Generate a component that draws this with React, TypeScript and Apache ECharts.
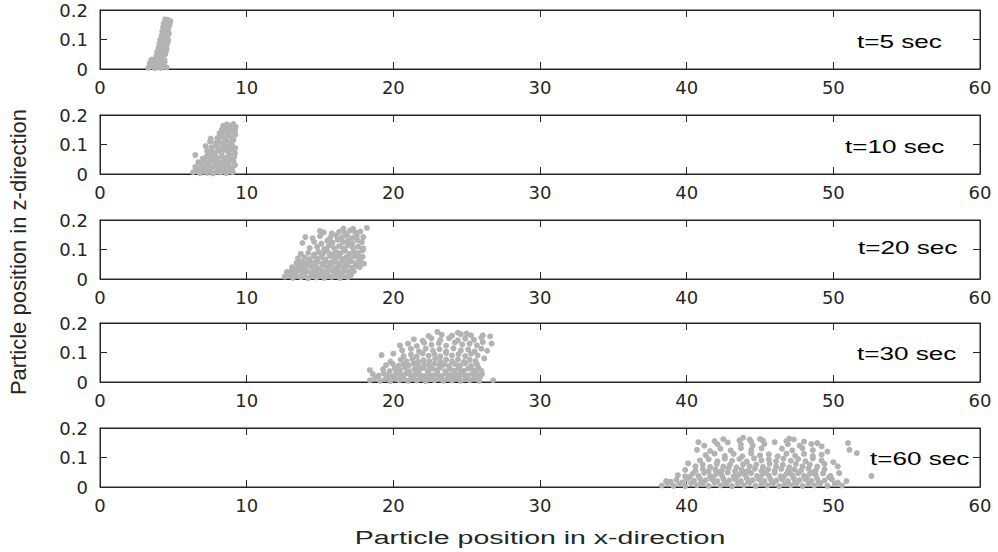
import React, { useEffect, useRef } from "react";
import * as echarts from "echarts";

// ---- data ----
const panelLabels = ["t=5 sec", "t=10 sec", "t=20 sec", "t=30 sec", "t=60 sec"];
const xTickValues = [0, 10, 20, 30, 40, 50, 60];
const zTickValues = [0, 0.1, 0.2];
const xLabel = "Particle position in x-direction";
const zLabel = "Particle position in z-direction";

// particle positions: [x, z]
const t5Points: number[][] = [
  [3.3, 0.004], [3.55, 0.009], [3.75, 0.003], [3.95, 0.007], [4.15, 0.004], [4.35, 0.008], [4.55, 0.005],
  [3.4, 0.019], [3.6, 0.024], [3.8, 0.017], [4.0, 0.022], [4.2, 0.018], [4.4, 0.023],
  [3.5, 0.031], [3.75, 0.034], [3.95, 0.03], [4.2, 0.033], [4.4, 0.03],
  [3.85, 0.045], [4.05, 0.042], [4.3, 0.046], [4.45, 0.05],
  [3.9, 0.058], [4.1, 0.062], [4.3, 0.056], [4.5, 0.06],
  [4.0, 0.072], [4.2, 0.068], [4.4, 0.075], [4.55, 0.07],
  [4.05, 0.085], [4.25, 0.09], [4.45, 0.083], [4.6, 0.088],
  [4.1, 0.1], [4.3, 0.097], [4.5, 0.103], [4.65, 0.098],
  [4.2, 0.113], [4.4, 0.117], [4.6, 0.111], [4.7, 0.12],
  [4.25, 0.128], [4.45, 0.125], [4.65, 0.131],
  [4.3, 0.142], [4.5, 0.139], [4.7, 0.145],
  [4.35, 0.155], [4.55, 0.158], [4.75, 0.152],
  [4.45, 0.168], [4.65, 0.166], [4.8, 0.162],
];

const t10Points: number[][] = [
  [6.35, 0.006], [6.6, 0.012], [6.8, 0.003], [7.05, 0.009], [7.3, 0.004], [7.5, 0.014], [7.7, 0.002], [7.95, 0.008], [8.2, 0.005], [8.4, 0.013], [8.6, 0.003], [8.85, 0.009], [9.05, 0.006],
  [6.5, 0.024], [6.75, 0.019], [7.0, 0.027], [7.2, 0.02], [7.45, 0.03], [7.65, 0.022], [7.9, 0.026], [8.1, 0.018], [8.35, 0.028], [8.55, 0.021], [8.8, 0.025], [9.0, 0.019], [9.2, 0.03],
  [6.9, 0.038], [7.1, 0.045], [7.35, 0.036], [7.55, 0.05], [7.8, 0.041], [8.0, 0.053], [8.2, 0.039], [8.45, 0.047], [8.65, 0.037], [8.9, 0.052], [9.1, 0.043],
  [7.25, 0.058], [7.6, 0.062], [7.9, 0.057], [8.3, 0.06], [8.6, 0.055], [8.85, 0.063], [9.15, 0.058],
  [7.4, 0.07], [7.65, 0.077], [7.85, 0.069], [8.05, 0.081], [8.3, 0.072], [8.5, 0.085], [8.75, 0.074], [8.95, 0.083], [9.2, 0.07],
  [7.6, 0.09], [7.95, 0.094], [8.2, 0.088], [8.45, 0.098], [8.7, 0.092], [9.0, 0.097], [9.22, 0.088],
  [7.85, 0.105], [8.1, 0.11], [8.35, 0.104], [8.6, 0.113], [8.85, 0.107], [9.1, 0.115],
  [8.0, 0.122], [8.25, 0.128], [8.5, 0.121], [8.75, 0.131], [9.0, 0.124], [9.23, 0.133],
  [8.15, 0.138], [8.45, 0.142], [8.7, 0.137], [8.95, 0.145],
  [8.3, 0.15], [8.55, 0.155], [8.8, 0.149], [9.05, 0.157], [9.2, 0.146],
  [8.4, 0.163], [8.65, 0.168], [8.9, 0.162], [9.1, 0.169], [9.25, 0.16],
  [6.5, 0.064], [7.2, 0.095], [7.0, 0.052], [7.5, 0.11], [6.7, 0.04], [7.3, 0.078], [7.55, 0.12],
  [7.4, 0.016], [8.0, 0.033], [8.7, 0.015], [7.7, 0.045], [8.8, 0.04],
];

const t20Points: number[][] = [
  [12.6, 0.008], [12.9, 0.014], [13.15, 0.004], [13.4, 0.011], [13.7, 0.006], [13.95, 0.015], [14.2, 0.003], [14.5, 0.01], [14.75, 0.005], [15.0, 0.013], [15.3, 0.004], [15.55, 0.011], [15.8, 0.007], [16.1, 0.014], [16.35, 0.004], [16.6, 0.01], [16.9, 0.006], [17.1, 0.013],
  [12.75, 0.024], [13.05, 0.028], [13.3, 0.021], [13.6, 0.029], [13.85, 0.022], [14.1, 0.027], [14.4, 0.02], [14.65, 0.03], [14.9, 0.023], [15.2, 0.026], [15.45, 0.021], [15.7, 0.03], [15.95, 0.024], [16.25, 0.027], [16.5, 0.02], [16.75, 0.029], [17.0, 0.023], [17.3, 0.026],
  [13.1, 0.04], [13.35, 0.036], [13.65, 0.045], [13.9, 0.038], [14.15, 0.048], [14.45, 0.039], [14.7, 0.044], [14.95, 0.035], [15.25, 0.047], [15.5, 0.04], [15.75, 0.049], [16.05, 0.037], [16.3, 0.045], [16.6, 0.039], [16.85, 0.047], [17.15, 0.038], [17.45, 0.044], [17.7, 0.04],
  [13.4, 0.055], [13.75, 0.058], [14.0, 0.053], [14.3, 0.06], [14.6, 0.055], [14.85, 0.059], [15.15, 0.052], [15.4, 0.06], [15.7, 0.056], [16.0, 0.059], [16.25, 0.053], [16.55, 0.058], [16.8, 0.055], [17.1, 0.06], [17.4, 0.054], [17.75, 0.058], [18.0, 0.052],
  [13.5, 0.07], [13.95, 0.073], [14.25, 0.067], [14.55, 0.077], [14.8, 0.069], [15.1, 0.075], [15.35, 0.066], [15.65, 0.078], [15.95, 0.07], [16.2, 0.076], [16.5, 0.068], [16.8, 0.074], [17.05, 0.067], [17.35, 0.077], [17.65, 0.07], [17.9, 0.075],
  [13.7, 0.085], [14.2, 0.089], [14.6, 0.083], [14.9, 0.092], [15.2, 0.086], [15.5, 0.095], [15.8, 0.084], [16.1, 0.091], [16.4, 0.087], [16.7, 0.096], [17.0, 0.085], [17.3, 0.093], [17.6, 0.088], [17.9, 0.097],
  [14.3, 0.105], [14.8, 0.109], [15.3, 0.102], [15.6, 0.113], [15.95, 0.105], [16.3, 0.111], [16.6, 0.103], [16.9, 0.114], [17.25, 0.106], [17.6, 0.11], [17.95, 0.104],
  [13.8, 0.122], [14.6, 0.126], [15.1, 0.12], [15.5, 0.13], [15.85, 0.123], [16.2, 0.133], [16.55, 0.125], [16.9, 0.129], [17.2, 0.121], [17.55, 0.132], [17.85, 0.125],
  [14.0, 0.142], [14.5, 0.138], [15.0, 0.145], [15.7, 0.14], [16.1, 0.148], [16.5, 0.141], [16.85, 0.147], [17.2, 0.139], [17.5, 0.146], [17.95, 0.142],
  [15.0, 0.163], [15.25, 0.158], [15.8, 0.155], [16.3, 0.16], [16.7, 0.156], [17.05, 0.164], [17.4, 0.158], [17.75, 0.161], [16.6, 0.171], [17.25, 0.17], [18.2, 0.173],
  [13.0, 0.018], [13.8, 0.017], [14.6, 0.016], [15.4, 0.018], [16.2, 0.017], [17.0, 0.016], [14.0, 0.034], [15.6, 0.033], [16.7, 0.034], [14.3, 0.05], [16.0, 0.065],
];

const t30Points: number[][] = [
  [18.4, 0.006], [18.75, 0.013], [19.1, 0.004], [19.45, 0.01], [19.8, 0.003], [20.1, 0.012], [20.4, 0.006], [20.7, 0.014], [21.0, 0.004], [21.3, 0.011], [21.6, 0.005], [21.9, 0.013], [22.2, 0.003], [22.5, 0.01], [22.8, 0.006], [23.1, 0.014], [23.4, 0.004], [23.7, 0.011], [24.0, 0.005], [24.3, 0.013], [24.6, 0.004], [24.9, 0.01], [25.2, 0.006], [25.5, 0.012], [25.85, 0.004], [26.8, 0.006],
  [18.6, 0.027], [19.0, 0.022], [19.35, 0.029], [19.7, 0.024], [20.0, 0.02], [20.3, 0.028], [20.6, 0.023], [20.9, 0.03], [21.2, 0.021], [21.5, 0.027], [21.8, 0.024], [22.1, 0.02], [22.4, 0.029], [22.7, 0.022], [23.0, 0.027], [23.3, 0.02], [23.6, 0.028], [23.9, 0.023], [24.2, 0.03], [24.5, 0.021], [24.8, 0.026], [25.1, 0.022], [25.4, 0.028], [25.75, 0.021], [26.05, 0.027],
  [18.4, 0.04], [19.3, 0.043], [19.75, 0.037], [20.1, 0.047], [20.45, 0.04], [20.8, 0.049], [21.1, 0.036], [21.45, 0.044], [21.75, 0.039], [22.05, 0.048], [22.35, 0.037], [22.65, 0.045], [22.95, 0.04], [23.25, 0.049], [23.55, 0.036], [23.85, 0.044], [24.15, 0.039], [24.45, 0.047], [24.8, 0.038], [25.1, 0.045], [25.45, 0.04], [25.8, 0.048], [26.0, 0.038],
  [19.5, 0.057], [19.95, 0.062], [20.35, 0.055], [20.7, 0.06], [21.05, 0.056], [21.4, 0.063], [21.7, 0.054], [22.1, 0.059], [22.45, 0.055], [22.8, 0.062], [23.15, 0.056], [23.5, 0.06], [23.8, 0.054], [24.2, 0.061], [24.55, 0.056], [24.9, 0.063], [25.3, 0.055], [25.7, 0.06],
  [19.8, 0.069], [20.5, 0.075], [20.9, 0.07], [21.3, 0.078], [21.7, 0.068], [22.05, 0.074], [22.45, 0.07], [22.85, 0.079], [23.2, 0.069], [23.6, 0.076], [24.0, 0.07], [24.4, 0.077], [24.8, 0.068], [25.2, 0.075], [25.6, 0.071], [26.2, 0.08],
  [19.2, 0.091], [20.0, 0.096], [20.7, 0.088], [21.2, 0.093], [21.6, 0.086], [22.0, 0.097], [22.4, 0.089], [22.8, 0.094], [23.2, 0.087], [23.6, 0.098], [24.0, 0.09], [24.45, 0.095], [24.9, 0.088], [25.3, 0.096], [25.75, 0.09],
  [20.6, 0.107], [21.2, 0.112], [21.75, 0.104], [22.2, 0.113], [22.7, 0.106], [23.15, 0.111], [23.6, 0.103], [24.1, 0.114], [24.6, 0.107], [25.1, 0.11], [25.55, 0.104], [26.0, 0.113], [26.4, 0.106],
  [20.45, 0.124], [21.0, 0.13], [21.6, 0.122], [22.1, 0.133], [22.6, 0.126], [23.1, 0.131], [23.6, 0.123], [24.2, 0.134], [24.7, 0.127], [25.2, 0.13], [25.7, 0.124], [26.1, 0.135], [26.7, 0.13],
  [21.4, 0.145], [22.0, 0.14], [22.6, 0.148], [23.2, 0.142], [23.8, 0.149], [24.4, 0.141], [24.9, 0.147], [25.5, 0.143], [26.0, 0.15],
  [22.4, 0.156], [23.3, 0.16], [24.0, 0.157], [24.6, 0.162], [25.3, 0.158], [26.1, 0.158], [26.6, 0.155], [23.0, 0.17], [24.4, 0.167], [25.0, 0.164],
  [19.6, 0.016], [20.5, 0.017], [21.4, 0.016], [22.3, 0.017], [23.2, 0.016], [24.1, 0.017], [25.0, 0.016], [25.9, 0.017],
  [20.2, 0.033], [21.6, 0.034], [23.0, 0.033], [24.6, 0.034], [25.6, 0.033],
];

const t60Points: number[][] = [
  [38.3, 0.005], [38.7, 0.012], [39.1, 0.004], [39.5, 0.01], [39.9, 0.003], [40.3, 0.013], [40.7, 0.006], [41.1, 0.011], [41.5, 0.004], [41.9, 0.014], [42.3, 0.005], [42.7, 0.01], [43.1, 0.003], [43.5, 0.012], [43.9, 0.006], [44.3, 0.014], [44.7, 0.004], [45.1, 0.011], [45.5, 0.005], [45.9, 0.013], [46.3, 0.003], [46.7, 0.01], [47.1, 0.006], [47.5, 0.013], [47.9, 0.004], [48.3, 0.011], [48.7, 0.005], [49.1, 0.012], [49.6, 0.004], [50.1, 0.01], [50.6, 0.005],
  [38.6, 0.02], [39.3, 0.024], [40.0, 0.027], [40.5, 0.021], [40.9, 0.029], [41.3, 0.023], [41.7, 0.027], [42.1, 0.02], [42.5, 0.028], [42.9, 0.022], [43.3, 0.026], [43.7, 0.02], [44.1, 0.029], [44.5, 0.023], [44.9, 0.027], [45.3, 0.021], [45.7, 0.028], [46.1, 0.022], [46.5, 0.026], [46.9, 0.02], [47.3, 0.029], [47.7, 0.023], [48.1, 0.027], [48.5, 0.021], [48.9, 0.028], [49.4, 0.022], [49.9, 0.026], [50.9, 0.02],
  [39.4, 0.04], [39.9, 0.036], [40.4, 0.045], [40.8, 0.038], [41.2, 0.048], [41.6, 0.037], [42.0, 0.044], [42.4, 0.039], [42.8, 0.049], [43.2, 0.036], [43.6, 0.043], [44.0, 0.04], [44.4, 0.047], [44.8, 0.037], [45.2, 0.045], [45.6, 0.039], [46.0, 0.048], [46.4, 0.036], [46.8, 0.044], [47.2, 0.04], [47.6, 0.047], [48.0, 0.038], [48.4, 0.045], [48.8, 0.04], [49.3, 0.046], [49.8, 0.038], [50.4, 0.047], [52.6, 0.037],
  [39.9, 0.058], [40.6, 0.055], [41.1, 0.061], [41.5, 0.054], [41.95, 0.06], [42.4, 0.056], [42.85, 0.062], [43.3, 0.054], [43.75, 0.059], [44.2, 0.055], [44.65, 0.062], [45.1, 0.054], [45.55, 0.06], [46.0, 0.056], [46.45, 0.061], [46.9, 0.054], [47.35, 0.06], [47.8, 0.056], [48.3, 0.062], [48.8, 0.055], [49.4, 0.06],
  [40.1, 0.08], [40.6, 0.07], [41.1, 0.076], [41.6, 0.068], [42.05, 0.078], [42.5, 0.069], [42.95, 0.075], [43.4, 0.067], [43.85, 0.077], [44.3, 0.07], [44.75, 0.076], [45.2, 0.068], [45.65, 0.079], [46.1, 0.07], [46.55, 0.075], [47.0, 0.067], [47.45, 0.078], [47.9, 0.07], [48.4, 0.076], [48.9, 0.069], [49.4, 0.078], [50.3, 0.07], [50.0, 0.084],
  [40.9, 0.09], [41.5, 0.094], [42.1, 0.087], [42.6, 0.096], [43.1, 0.089], [43.6, 0.095], [44.1, 0.086], [44.6, 0.097], [45.1, 0.09], [45.6, 0.094], [46.1, 0.087], [46.6, 0.096], [47.1, 0.089], [47.6, 0.095], [48.1, 0.087], [48.6, 0.097], [49.2, 0.09],
  [41.3, 0.108], [41.9, 0.113], [42.6, 0.105], [43.2, 0.112], [43.8, 0.104], [44.4, 0.114], [45.0, 0.107], [45.6, 0.111], [46.2, 0.104], [46.8, 0.113], [47.4, 0.106], [48.0, 0.112], [48.6, 0.105], [49.2, 0.11], [51.6, 0.115],
  [40.7, 0.126], [41.6, 0.122], [42.3, 0.13], [43.0, 0.124], [43.7, 0.132], [44.4, 0.125], [45.1, 0.131], [46.5, 0.13], [47.2, 0.124], [47.9, 0.131], [48.6, 0.125], [49.6, 0.12], [51.1, 0.126],
  [41.2, 0.14], [42.1, 0.145], [43.7, 0.144], [44.5, 0.14], [45.3, 0.146], [46.9, 0.145], [47.7, 0.14], [48.5, 0.146], [49.2, 0.138],
  [40.8, 0.152], [41.9, 0.156], [42.8, 0.151], [43.6, 0.158], [44.4, 0.153], [45.2, 0.157], [46.0, 0.152], [46.8, 0.156], [47.3, 0.161], [48.0, 0.154], [48.9, 0.149], [51.0, 0.149],
  [43.85, 0.167], [42.5, 0.162], [45.0, 0.163], [47.0, 0.164], [44.3, 0.161],
  [38.9, 0.018], [39.7, 0.016], [40.2, 0.034], [41.0, 0.015], [41.8, 0.033], [42.6, 0.016], [43.4, 0.034], [44.2, 0.017], [45.0, 0.033], [45.8, 0.015], [46.6, 0.034], [47.4, 0.016], [48.2, 0.033], [49.0, 0.017], [49.7, 0.033], [50.3, 0.015],
  [42.2, 0.05], [43.9, 0.051], [45.4, 0.05], [47.0, 0.051], [48.6, 0.05],
];

const panelPoints = [t5Points, t10Points, t20Points, t30Points, t60Points];

// ---- layout / style ----
const W = 998;
const H = 552;
const gridTops = [10, 115, 220, 323, 428];
const gridHeight = 59;
const labelPos = [
  [857, 42],
  [845, 147],
  [858, 248],
  [857, 354],
  [870, 459],
];
const axisColor = "#262626";
const pointColor = "#b3b3b3";
const tickFont = "DejaVu Sans";

export default function App() {
  const ref = useRef<HTMLDivElement>(null);

  useEffect(() => {
    if (!ref.current) return;
    const chart = echarts.init(ref.current, undefined, { renderer: "svg", width: W, height: H });

    const grids: any[] = [];
    const xAxes: any[] = [];
    const yAxes: any[] = [];
    const series: any[] = [];

    panelPoints.forEach((pts, i) => {
      grids.push({
        left: 100,
        right: 18,
        top: gridTops[i],
        height: gridHeight,
        show: true,
        borderColor: axisColor,
        borderWidth: 1,
        backgroundColor: "transparent",
      });
      const xBase = {
        type: "value",
        gridIndex: i,
        min: xTickValues[0],
        max: xTickValues[xTickValues.length - 1],
        interval: 10,
        splitLine: { show: false },
        axisLine: { show: true, onZero: false, lineStyle: { color: axisColor, width: 1 } },
        axisTick: { show: true, inside: true, length: 7, lineStyle: { color: axisColor } },
      };
      xAxes.push({
        ...xBase,
        position: "bottom",
        axisLabel: {
          show: true,
          margin: 9,
          color: axisColor,
          fontFamily: tickFont,
          fontSize: 18,
        },
      });
      xAxes.push({ ...xBase, position: "top", axisLabel: { show: false } });

      const yBase = {
        type: "value",
        gridIndex: i,
        min: zTickValues[0],
        max: zTickValues[zTickValues.length - 1],
        interval: 0.1,
        splitLine: { show: false },
        axisLine: { show: true, onZero: false, lineStyle: { color: axisColor, width: 1 } },
        axisTick: { show: true, inside: true, length: 7, lineStyle: { color: axisColor } },
      };
      yAxes.push({
        ...yBase,
        position: "left",
        axisLabel: {
          show: true,
          margin: 12,
          color: axisColor,
          fontFamily: tickFont,
          fontSize: 18,
        },
      });
      yAxes.push({ ...yBase, position: "right", axisLabel: { show: false } });

      series.push({
        type: "scatter",
        xAxisIndex: i * 2,
        yAxisIndex: i * 2,
        data: pts,
        symbol: "circle",
        symbolSize: 6,
        itemStyle: { color: pointColor, opacity: 1 },
        silent: true,
      });
    });

    const graphics: any[] = panelLabels.map((txt, i) => ({
      type: "text",
      x: labelPos[i][0],
      y: labelPos[i][1],
      scaleX: 1.45,
      style: {
        text: txt,
        fill: "#000",
        font: '18px "Liberation Sans"',
        align: "left",
        verticalAlign: "middle",
      },
      z: 100,
    }));
    graphics.push({
      type: "text",
      x: 540,
      y: 537,
      scaleX: 1.5,
      style: {
        text: xLabel,
        fill: "#262626",
        font: '19px "Liberation Sans"',
        align: "center",
        verticalAlign: "middle",
      },
    });
    graphics.push({
      type: "text",
      x: 18,
      y: 252,
      rotation: Math.PI / 2,
      style: {
        text: zLabel,
        fill: "#262626",
        font: '22px "Liberation Sans"',
        align: "center",
        verticalAlign: "middle",
      },
    });

    chart.setOption({
      animation: false,
      backgroundColor: "#ffffff",
      grid: grids,
      xAxis: xAxes,
      yAxis: yAxes,
      series,
      graphic: graphics,
    });

    return () => chart.dispose();
  }, []);

  return (
    <div
      ref={ref}
      style={{ position: "fixed", left: 0, top: 0, width: W, height: H, background: "#fff" }}
    />
  );
}
